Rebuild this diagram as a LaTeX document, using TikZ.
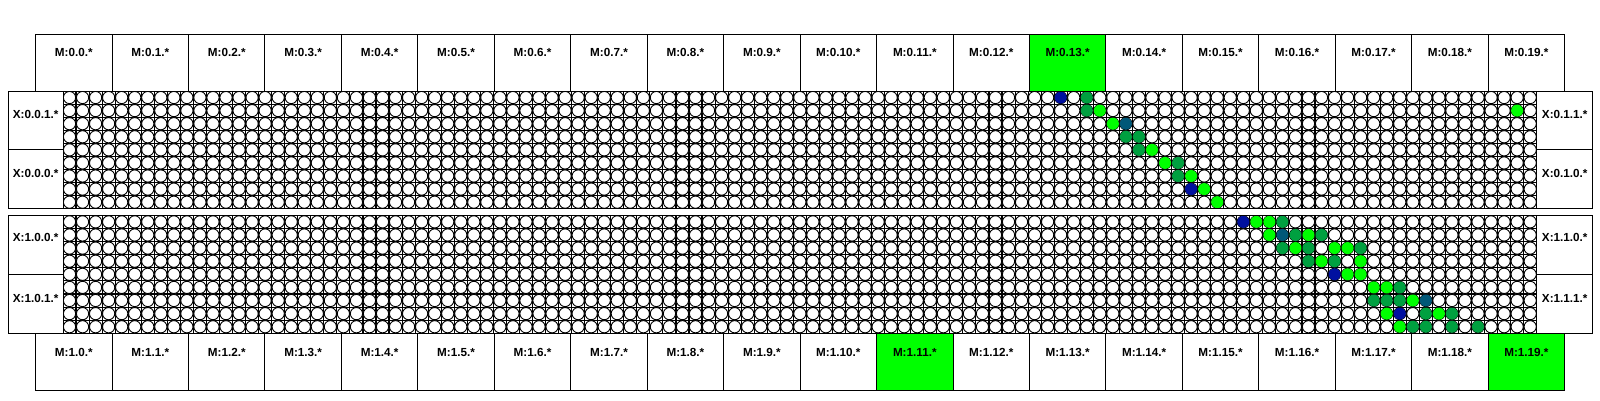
\documentclass[tikz,border=0pt]{standalone}
\usepackage{fontspec}
\setmainfont{Liberation Sans}
\definecolor{cblue}{RGB}{0,16,160}
\definecolor{cteal}{RGB}{0,88,120}
\definecolor{cmid}{RGB}{0,160,64}
\definecolor{cbright}{RGB}{0,255,0}
\begin{document}
\begin{tikzpicture}[x=1pt,y=-1pt,
  mbox/.style={draw=black, line width=1pt, inner sep=0pt, minimum width=76.45pt, minimum height=57pt},
  xbox/.style={draw=black, line width=1pt, fill=white, inner sep=0pt},
  lbl/.style={font=\bfseries\fontsize{11.7}{14}\selectfont, anchor=base, inner sep=0pt},
  gline/.style={draw=black, line width=1.1pt},
  cell/.style={draw=black, line width=0.9pt, fill=white},
  hit/.style={fill=#1},
  blk/.style={draw=black, line width=1pt, inner sep=0pt}]
\useasboundingbox (0,0) rectangle (1600,400);
\fill[white] (0,0) rectangle (1600,400);

% ---- grids ----
\def\gx{63}
\def\cw{13.0416}
\foreach \yo/\ch in {91/13.078, 215.3/13.111}{
  \foreach \i in {0,...,113}{
    \draw[gline] ({\gx+\i*\cw},\yo) -- ({\gx+\i*\cw},{\yo+9*\ch});
  }
  \foreach \j in {0,...,9}{
    \draw[gline] (\gx,{\yo+\j*\ch}) -- ({\gx+113*\cw},{\yo+\j*\ch});
  }
  \foreach \j in {0,...,8}{
    \foreach \i in {0,...,112}{
      \draw[cell] ({\gx+(\i+0.5)*\cw},{\yo+(\j+0.5)*\ch}) circle (6.1);
    }
  }
}

% ---- coloured cells, upper block ----
\foreach \r/\k/\col in {0/76/cblue,0/78/cmid,
  1/78/cmid,1/79/cbright,1/111/cbright,
  2/80/cbright,2/81/cteal,
  3/81/cmid,3/82/cmid,
  4/82/cmid,4/83/cbright,
  5/84/cbright,5/85/cmid,
  6/85/cmid,6/86/cbright,
  7/86/cblue,7/87/cbright,
  8/88/cbright}{
  \fill[hit=\col] ({\gx+(\k+0.5)*\cw},{91+(\r+0.5)*13.078}) circle (6.0);
}
% ---- coloured cells, lower block ----
\foreach \r/\k/\col in {0/90/cblue,0/91/cbright,0/92/cbright,0/93/cmid,
  1/92/cbright,1/93/cteal,1/94/cmid,1/95/cbright,1/96/cmid,
  2/93/cmid,2/94/cbright,2/95/cmid,2/97/cbright,2/98/cbright,2/99/cmid,
  3/95/cmid,3/96/cbright,3/97/cmid,3/99/cbright,
  4/97/cblue,4/98/cbright,4/99/cbright,
  5/100/cbright,5/101/cbright,5/102/cmid,
  6/100/cmid,6/101/cmid,6/102/cmid,6/103/cbright,6/104/cteal,
  7/101/cbright,7/102/cblue,7/104/cmid,7/105/cbright,7/106/cmid,
  8/102/cbright,8/103/cmid,8/104/cmid,8/106/cmid,8/108/cmid}{
  \fill[hit=\col] ({\gx+(\k+0.5)*\cw},{215.3+(\r+0.5)*13.111}) circle (6.0);
}

% ---- block outlines ----
\node[blk, minimum width=1584.4pt, minimum height=117.7pt] (ublk) at (800.5,149.85) {};
\node[blk, minimum width=1584.4pt, minimum height=118pt] (lblk) at (800.5,274.3) {};

% ---- X boxes ----
\node[xbox, minimum width=54.7pt, minimum height=58.85pt] (xl0) at (35.65,120.43) {};
\node[xbox, minimum width=54.7pt, minimum height=58.85pt] (xl1) at (35.65,179.28) {};
\node[xbox, minimum width=56pt, minimum height=58.85pt] (xr0) at (1564.7,120.43) {};
\node[xbox, minimum width=56pt, minimum height=58.85pt] (xr1) at (1564.7,179.28) {};
\node[xbox, minimum width=54.7pt, minimum height=59pt] (xl2) at (35.65,244.8) {};
\node[xbox, minimum width=54.7pt, minimum height=59pt] (xl3) at (35.65,303.8) {};
\node[xbox, minimum width=56pt, minimum height=59pt] (xr2) at (1564.7,244.8) {};
\node[xbox, minimum width=56pt, minimum height=59pt] (xr3) at (1564.7,303.8) {};
\node[lbl] (txl0) at (35.65,118) {X:0.0.1.*};
\node[lbl] (txl1) at (35.65,177) {X:0.0.0.*};
\node[lbl] (txr0) at (1564.7,118) {X:0.1.1.*};
\node[lbl] (txr1) at (1564.7,177) {X:0.1.0.*};
\node[lbl] (txl2) at (35.65,241.5) {X:1.0.0.*};
\node[lbl] (txl3) at (35.65,302.5) {X:1.0.1.*};
\node[lbl] (txr2) at (1564.7,241.5) {X:1.1.0.*};
\node[lbl] (txr3) at (1564.7,302.5) {X:1.1.1.*};

% ---- M boxes ----
\foreach \i in {0,...,19}{
  \def\fc{white}\ifnum\i=13 \def\fc{cbright}\fi
  \node[mbox, fill=\fc] (mt\i) at ({35.6+76.45*(\i+0.5)},62.5) {};
  \node[lbl] (mtl\i) at ({35.6+76.45*(\i+0.5)},56.5) {M:0.\i.*};
}
\foreach \i in {0,...,19}{
  \def\fc{white}\ifnum\i=11 \def\fc{cbright}\fi\ifnum\i=19 \def\fc{cbright}\fi
  \node[mbox, fill=\fc] (mb\i) at ({35.6+76.45*(\i+0.5)},361.8) {};
  \node[lbl] (mbl\i) at ({35.6+76.45*(\i+0.5)},356.5) {M:1.\i.*};
}
\end{tikzpicture}
\end{document}
